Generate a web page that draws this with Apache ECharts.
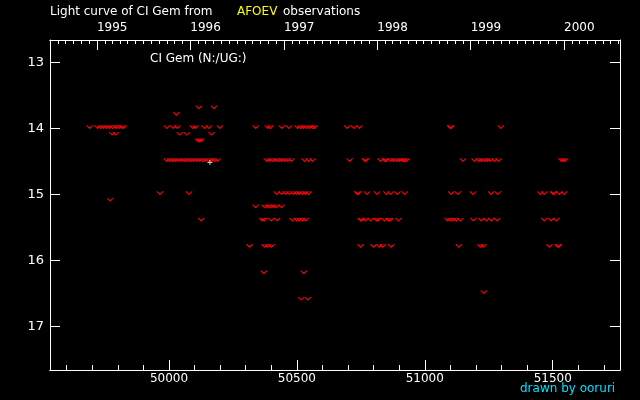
<!DOCTYPE html>
<html><head><meta charset="utf-8">
<script src="https://cdn.jsdelivr.net/npm/echarts@6/dist/echarts.min.js"></script>
<style>html,body{margin:0;padding:0;background:#000;}#c{width:640px;height:400px;}</style>
</head><body><div id="c"></div>
<script>
// ---- axis ticks ----
const magTicks = [13, 14, 15, 16, 17];
const jdMajor = [50000, 50500, 51000, 51500];
const jdMinor = [49600, 49700, 49800, 49900, 50100, 50200, 50300, 50400, 50600, 50700, 50800, 50900,
                 51100, 51200, 51300, 51400, 51600, 51700];
const yearTicks = [1995, 1996, 1997, 1998, 1999, 2000];

// ---- "fainter than" observations (JD-2400000), grouped by magnitude ----
const lim_13_7 = [50117, 50176];
const lim_13_8 = [50029];
const lim_14_0 = [49690, 49721, 49733, 49745, 49757, 49768, 49780, 49792, 49804, 49815, 49823,
                  49992, 50017, 50033, 50093, 50104, 50139, 50156, 50199, 50339, 50386, 50397,
                  50441, 50469, 50503, 50514, 50526, 50538, 50550, 50561, 50569, 50697, 50723,
                  50744, 51099, 51103, 51297];
const lim_14_1 = [49778, 49792, 50042, 50070, 50166];
const lim_14_2 = [50114, 50120, 50126];
const lim_14_5 = [49991, 50003, 50014, 50026, 50038, 50050, 50061, 50073, 50085, 50096, 50108,
                  50120, 50132, 50143, 50155, 50167, 50179, 50190, 50382, 50393, 50405, 50417,
                  50428, 50440, 50452, 50464, 50479, 50530, 50546, 50561, 50706, 50766, 50770,
                  50827, 50843, 50850, 50866, 50877, 50889, 50901, 50913, 50920, 50929, 51149,
                  51194, 51210, 51221, 51233, 51245, 51257, 51272, 51288, 51534, 51541, 51548];
const lim_15_0 = [49965, 50078, 50421, 50440, 50456, 50471, 50487, 50499, 50510, 50522, 50534,
                  50546, 50736, 50740, 50774, 50813, 50850, 50866, 50893, 50921, 51103, 51129,
                  51188, 51259, 51285, 51452, 51467, 51501, 51505, 51526, 51545];
const lim_15_1 = [49770];
const lim_15_2 = [50339, 50374, 50386, 50397, 50409, 50421, 50440];
const lim_15_4 = [50126, 50364, 50372, 50400, 50423, 50483, 50499, 50510, 50522, 50534, 50749,
                  50753, 50768, 50788, 50811, 50818, 50842, 50858, 50866, 50897, 51089, 51100,
                  51112, 51124, 51139, 51190, 51221, 51241, 51260, 51283, 51467, 51494, 51514];
const lim_15_8 = [50315, 50374, 50386, 50401, 50749, 50800, 50823, 50836, 50869, 51133, 51217,
                  51229, 51487, 51520, 51524];
const lim_16_2 = [50371, 50527];
const lim_16_5 = [51231];
const lim_16_6 = [50517, 50543];

const limitMags = [13.7, 13.8, 14.0, 14.1, 14.2, 14.5, 15.0, 15.1, 15.2, 15.4, 15.8, 16.2, 16.5, 16.6];
const limitJDs  = [lim_13_7, lim_13_8, lim_14_0, lim_14_1, lim_14_2, lim_14_5, lim_15_0, lim_15_1,
                   lim_15_2, lim_15_4, lim_15_8, lim_16_2, lim_16_5, lim_16_6];

// ---- positive observations ----
const obsJD  = [50160];
const obsMag = [14.5];

// ---- build ----
const toJD = (y, m) => Date.UTC(y, m, 1) / 864e5 + 40587.5;
const yearJD = yearTicks.map(y => toJD(y, 0));
const monthJD = [];
for (let y = 1994; y <= 2000; y++) for (let m = 0; m < 12; m++) monthJD.push(toJD(y, m));

const XMIN = 49535, XMAX = 51763, YMIN = 12.66, YMAX = 17.66;
const limData = [];
limitJDs.forEach((arr, i) => arr.forEach(j => limData.push([j, limitMags[i]])));
const obsData = obsJD.map((j, i) => [j, obsMag[i]]);

const FONT = 'DejaVu Sans';
const line = { lineStyle: { color: '#fff', width: 1 } };
const baseX = (pos, ticks, len, labels) => ({
  type: 'value', min: XMIN, max: XMAX, position: pos, offset: 0,
  axisLine: { show: true, onZero: false, ...line },
  axisTick: { show: true, inside: true, length: len, customValues: ticks, ...line },
  axisLabel: labels || { show: false },
  splitLine: { show: false }
});

const chart = echarts.init(document.getElementById('c'), null, { renderer: 'canvas' });
chart.setOption({
  animation: false,
  backgroundColor: '#000',
  grid: { left: 50, right: 20, top: 40, bottom: 30 },
  xAxis: [
    baseX('bottom', jdMajor, 10, { show: true, customValues: jdMajor, color: '#fff',
      fontFamily: FONT, fontSize: 12, margin: 3, formatter: v => String(v) }),
    baseX('bottom', jdMinor, 5),
    baseX('top', yearJD, 10, { show: true, customValues: yearJD, color: '#fff', align: 'left',
      fontFamily: FONT, fontSize: 12, margin: 6,
      formatter: v => String(new Date((v + 1 - 40587.5) * 864e5).getUTCFullYear()) }),
    baseX('top', monthJD.filter(v => v > XMIN && v < XMAX), 4)
  ],
  yAxis: [
    { type: 'value', inverse: true, min: YMIN, max: YMAX, position: 'left',
      axisLine: { show: true, onZero: false, ...line },
      axisTick: { show: true, inside: true, length: 10, customValues: magTicks, ...line },
      axisLabel: { customValues: magTicks, color: '#fff', fontFamily: FONT, fontSize: 13, margin: 6 },
      splitLine: { show: false } },
    { type: 'value', inverse: true, min: YMIN, max: YMAX, position: 'right',
      axisLine: { show: true, onZero: false, ...line },
      axisTick: { show: true, inside: true, length: 10, customValues: magTicks, ...line },
      axisLabel: { show: false }, splitLine: { show: false } }
  ],
  series: [
    { type: 'scatter', xAxisIndex: 0, yAxisIndex: 0, data: limData,
      symbol: 'path://M0,0L3,3L6,0', symbolSize: [6, 3], symbolOffset: [0, -1.5],
      itemStyle: { color: 'transparent', borderColor: '#ff0000', borderWidth: 1, opacity: 1 },
      emphasis: { disabled: true } },
    { type: 'scatter', xAxisIndex: 0, yAxisIndex: 0, data: obsData,
      symbol: 'path://M2,0L3,0L3,2L5,2L5,3L3,3L3,5L2,5L2,3L0,3L0,2L2,2Z', symbolSize: 5,
      symbolOffset: [0, 1],
      itemStyle: { color: '#fff' }, emphasis: { disabled: true } }
  ],
  graphic: [
    { type: 'text', left: 50, top: 6, style: { text: 'Light curve of CI Gem from', fill: '#fff', font: '12px "DejaVu Sans"' } },
    { type: 'text', left: 237, top: 6, style: { text: 'AFOEV', fill: '#ffff00', font: '12px "DejaVu Sans"' } },
    { type: 'text', left: 283, top: 6, style: { text: 'observations', fill: '#fff', font: '12px "DejaVu Sans"' } },
    { type: 'text', left: 150, top: 53, style: { text: 'CI Gem (N:/UG:)', fill: '#fff', font: '12px "DejaVu Sans"' } },
    { type: 'text', left: 520, top: 383, style: { text: 'drawn by ooruri', fill: '#00e0ff', font: '12px "DejaVu Sans"' } }
  ]
});
</script></body></html>
